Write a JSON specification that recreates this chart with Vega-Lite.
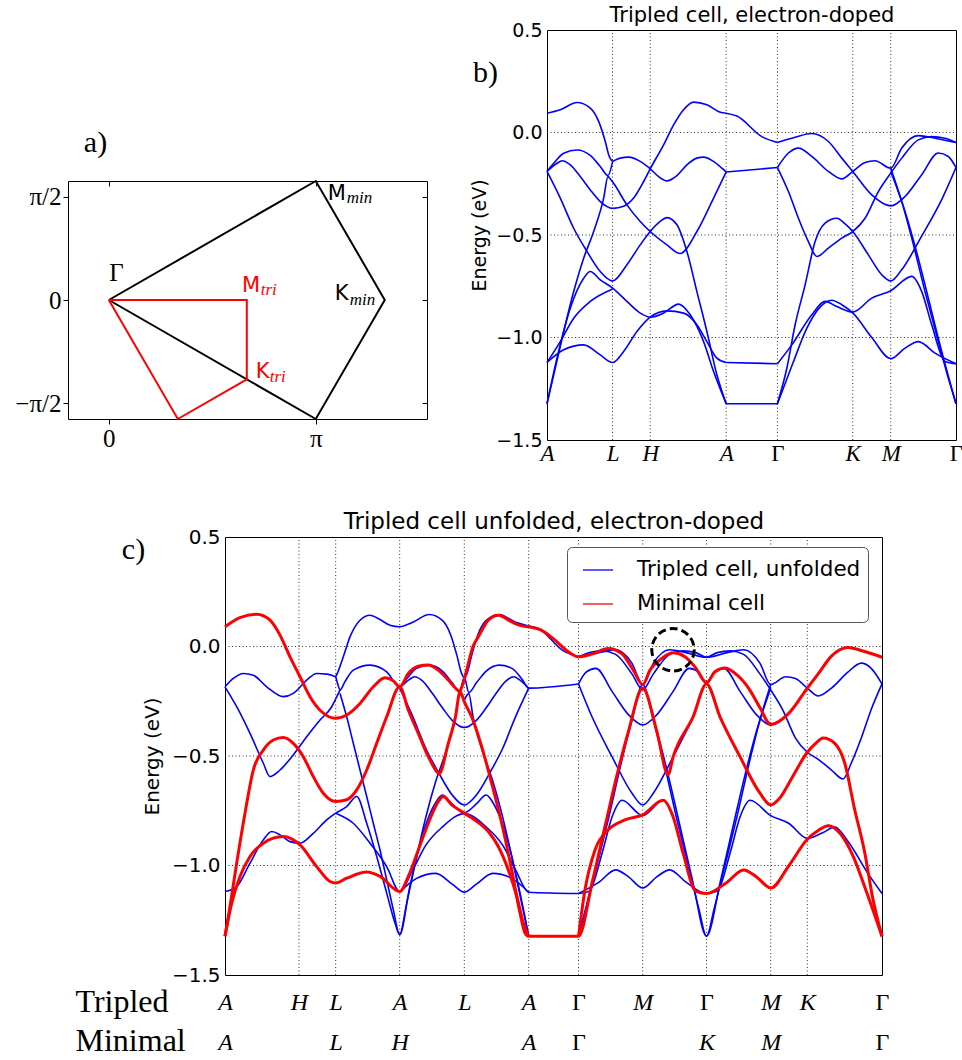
{
"$schema": "https://vega.github.io/schema/vega-lite/v6.json",
"width": 962, "height": 1060, "autosize": "none", "padding": 0, "background": "white",
"config": {"view": {"stroke": null}, "axis": {"domainColor": "black", "tickColor": "black", "labelColor": "black", "titleColor": "black", "grid": false, "labelFont": "DejaVu Sans", "titleFont": "DejaVu Sans", "titleFontWeight": "normal", "labelFlush": false, "labelOverlap": false, "labelBound": false}},
"datasets": {
"bz": [
{"s": "min", "o": 0, "kx": 0, "ky": 0}, {"s": "min", "o": 1, "kx": 3.1416, "ky": 1.8138}, {"s": "min", "o": 2, "kx": 4.1888, "ky": 0}, {"s": "min", "o": 3, "kx": 3.1416, "ky": -1.8138}, {"s": "min", "o": 4, "kx": 0, "ky": 0},
{"s": "tri", "o": 0, "kx": 0, "ky": 0}, {"s": "tri", "o": 1, "kx": 2.0944, "ky": 0}, {"s": "tri", "o": 2, "kx": 2.0944, "ky": -1.2092}, {"s": "tri", "o": 3, "kx": 1.0472, "ky": -1.8138}, {"s": "tri", "o": 4, "kx": 0, "ky": 0}],
"bzlab": [
{"main": "M", "sub": "min", "g": "min", "x": 3.324, "y": 1.524, "sx": 3.613, "sy": 1.48},
{"main": "K", "sub": "min", "g": "min", "x": 3.43, "y": 0.0, "sx": 3.658, "sy": -0.076},
{"main": "M", "sub": "tri", "g": "tri", "x": 2.02, "y": 0.122, "sx": 2.305, "sy": 0.076},
{"main": "K", "sub": "tri", "g": "tri", "x": 2.229, "y": -1.189, "sx": 2.442, "sy": -1.25}],
"gam": [{"t": "Γ", "x": 0.117, "y": 0.29}],
"gbv": [{"k": 65.6}, {"k": 103.3}, {"k": 179.3}, {"k": 230.6}, {"k": 306}, {"k": 344}],
"gh": [{"e": -1}, {"e": -0.5}, {"e": 0}],
"gcv": [{"k": 74}, {"k": 110.7}, {"k": 174.7}, {"k": 239.3}, {"k": 303.7}, {"k": 353.5}, {"k": 417.7}, {"k": 481.5}, {"k": 545.7}, {"k": 582.3}],
"b": [
{"id": "b1", "k": 0, "e": 0.094}, {"id": "b1", "k": 13.3, "e": 0.111}, {"id": "b1", "k": 30, "e": 0.146}, {"id": "b1", "k": 43.3, "e": 0.119}, {"id": "b1", "k": 51.7, "e": 0.054}, {"id": "b1", "k": 58.3, "e": -0.044}, {"id": "b1", "k": 62.3, "e": -0.117}, {"id": "b1", "k": 65.7, "e": -0.141},
{"id": "b2", "k": 65.7, "e": -0.141}, {"id": "b2", "k": 73.3, "e": -0.125}, {"id": "b2", "k": 81.7, "e": -0.12}, {"id": "b2", "k": 93.3, "e": -0.141}, {"id": "b2", "k": 103.3, "e": -0.177}, {"id": "b2", "k": 111.7, "e": -0.215}, {"id": "b2", "k": 120, "e": -0.236}, {"id": "b2", "k": 130, "e": -0.21}, {"id": "b2", "k": 140, "e": -0.158}, {"id": "b2", "k": 150, "e": -0.125}, {"id": "b2", "k": 156.7, "e": -0.12}, {"id": "b2", "k": 166.7, "e": -0.141}, {"id": "b2", "k": 175, "e": -0.174}, {"id": "b2", "k": 179.3, "e": -0.193},
{"id": "b3", "k": 0, "e": -0.19}, {"id": "b3", "k": 10, "e": -0.15}, {"id": "b3", "k": 15, "e": -0.138}, {"id": "b3", "k": 23.3, "e": -0.158}, {"id": "b3", "k": 33.3, "e": -0.215}, {"id": "b3", "k": 43.3, "e": -0.28}, {"id": "b3", "k": 53.3, "e": -0.337}, {"id": "b3", "k": 65.7, "e": -0.37}, {"id": "b3", "k": 76.7, "e": -0.36}, {"id": "b3", "k": 86.7, "e": -0.32}, {"id": "b3", "k": 96.7, "e": -0.239}, {"id": "b3", "k": 103.3, "e": -0.177}, {"id": "b3", "k": 116.7, "e": -0.06}, {"id": "b3", "k": 126.7, "e": 0.037}, {"id": "b3", "k": 136.7, "e": 0.111}, {"id": "b3", "k": 146.7, "e": 0.148}, {"id": "b3", "k": 160, "e": 0.135}, {"id": "b3", "k": 173.3, "e": 0.099}, {"id": "b3", "k": 179.3, "e": 0.094},
{"id": "b4", "k": 0, "e": -0.19}, {"id": "b4", "k": 6.7, "e": -0.15}, {"id": "b4", "k": 16.7, "e": -0.101}, {"id": "b4", "k": 30, "e": -0.085}, {"id": "b4", "k": 43.3, "e": -0.112}, {"id": "b4", "k": 53.3, "e": -0.166}, {"id": "b4", "k": 61, "e": -0.21}, {"id": "b4", "k": 65.7, "e": -0.141},
{"id": "b5", "k": 0, "e": -1.323}, {"id": "b5", "k": 6.7, "e": -1.182}, {"id": "b5", "k": 16.7, "e": -0.971}, {"id": "b5", "k": 26.7, "e": -0.776}, {"id": "b5", "k": 36.7, "e": -0.613}, {"id": "b5", "k": 46.7, "e": -0.483}, {"id": "b5", "k": 56.7, "e": -0.32}, {"id": "b5", "k": 61, "e": -0.215}, {"id": "b5", "k": 64, "e": -0.23}, {"id": "b5", "k": 67, "e": -0.25}, {"id": "b5", "k": 80, "e": -0.353}, {"id": "b5", "k": 93.3, "e": -0.434}, {"id": "b5", "k": 103.3, "e": -0.483}, {"id": "b5", "k": 120, "e": -0.548}, {"id": "b5", "k": 133.3, "e": -0.59}, {"id": "b5", "k": 150, "e": -0.483}, {"id": "b5", "k": 166.7, "e": -0.32}, {"id": "b5", "k": 179.3, "e": -0.193},
{"id": "b6", "k": 0, "e": -0.19}, {"id": "b6", "k": 13.3, "e": -0.32}, {"id": "b6", "k": 26.7, "e": -0.467}, {"id": "b6", "k": 40, "e": -0.58}, {"id": "b6", "k": 53.3, "e": -0.678}, {"id": "b6", "k": 65.7, "e": -0.724}, {"id": "b6", "k": 80, "e": -0.645}, {"id": "b6", "k": 93.3, "e": -0.548}, {"id": "b6", "k": 103.3, "e": -0.483}, {"id": "b6", "k": 113.3, "e": -0.434}, {"id": "b6", "k": 120, "e": -0.415}, {"id": "b6", "k": 130, "e": -0.45}, {"id": "b6", "k": 140, "e": -0.58}, {"id": "b6", "k": 150, "e": -0.776}, {"id": "b6", "k": 160, "e": -0.971}, {"id": "b6", "k": 170, "e": -1.182}, {"id": "b6", "k": 179.3, "e": -1.323},
{"id": "b8", "k": 0, "e": -1.323}, {"id": "b8", "k": 10, "e": -1.101}, {"id": "b8", "k": 23.3, "e": -0.857}, {"id": "b8", "k": 36.7, "e": -0.711}, {"id": "b8", "k": 43.3, "e": -0.678}, {"id": "b8", "k": 53.3, "e": -0.719}, {"id": "b8", "k": 65.7, "e": -0.759}, {"id": "b8", "k": 80, "e": -0.824}, {"id": "b8", "k": 93.3, "e": -0.881}, {"id": "b8", "k": 103.3, "e": -0.901}, {"id": "b8", "k": 116.7, "e": -0.881}, {"id": "b8", "k": 131.7, "e": -0.837}, {"id": "b8", "k": 143.3, "e": -0.889}, {"id": "b8", "k": 156.7, "e": -1.02}, {"id": "b8", "k": 166.7, "e": -1.166}, {"id": "b8", "k": 179.3, "e": -1.323},
{"id": "b9", "k": 0, "e": -1.122}, {"id": "b9", "k": 16.7, "e": -1.06}, {"id": "b9", "k": 36.7, "e": -1.036}, {"id": "b9", "k": 53.3, "e": -1.085}, {"id": "b9", "k": 65.7, "e": -1.122}, {"id": "b9", "k": 76.7, "e": -1.068}, {"id": "b9", "k": 90, "e": -0.971}, {"id": "b9", "k": 103.3, "e": -0.901}, {"id": "b9", "k": 120, "e": -0.87}, {"id": "b9", "k": 136.7, "e": -0.881}, {"id": "b9", "k": 150, "e": -0.938}, {"id": "b9", "k": 160, "e": -1.02}, {"id": "b9", "k": 170, "e": -1.101}, {"id": "b9", "k": 179.3, "e": -1.122},
{"id": "b10", "k": 0, "e": -1.122}, {"id": "b10", "k": 13.3, "e": -1.02}, {"id": "b10", "k": 26.7, "e": -0.906}, {"id": "b10", "k": 43.3, "e": -0.824}, {"id": "b10", "k": 65.7, "e": -0.763},
{"id": "g1", "k": 179.3, "e": 0.094}, {"id": "g1", "k": 190, "e": 0.08}, {"id": "g1", "k": 215, "e": -0.02}, {"id": "g1", "k": 230.6, "e": -0.049},
{"id": "g2", "k": 179.3, "e": -0.193}, {"id": "g2", "k": 230.6, "e": -0.171},
{"id": "g3", "k": 179.3, "e": -1.122}, {"id": "g3", "k": 230.6, "e": -1.128},
{"id": "g4", "k": 179.3, "e": -1.323}, {"id": "g4", "k": 230.6, "e": -1.323},
{"id": "ca", "k": 230.6, "e": -0.171}, {"id": "ca", "k": 241.6, "e": -0.1}, {"id": "ca", "k": 251.6, "e": -0.076}, {"id": "ca", "k": 265, "e": -0.117}, {"id": "ca", "k": 281.6, "e": -0.19}, {"id": "ca", "k": 295, "e": -0.226}, {"id": "ca", "k": 306, "e": -0.19}, {"id": "ca", "k": 318.3, "e": -0.146}, {"id": "ca", "k": 328.3, "e": -0.138}, {"id": "ca", "k": 344, "e": -0.174}, {"id": "ca", "k": 355, "e": -0.076}, {"id": "ca", "k": 371.6, "e": -0.015}, {"id": "ca", "k": 388.3, "e": -0.028}, {"id": "ca", "k": 409.3, "e": -0.049},
{"id": "cb", "k": 230.6, "e": -0.049}, {"id": "cb", "k": 248.3, "e": -0.023}, {"id": "cb", "k": 265, "e": -0.005}, {"id": "cb", "k": 281.6, "e": -0.044}, {"id": "cb", "k": 295, "e": -0.125}, {"id": "cb", "k": 306, "e": -0.19}, {"id": "cb", "k": 325, "e": -0.304}, {"id": "cb", "k": 344, "e": -0.358}, {"id": "cb", "k": 358.3, "e": -0.312}, {"id": "cb", "k": 375, "e": -0.206}, {"id": "cb", "k": 391.6, "e": -0.1}, {"id": "cb", "k": 401.6, "e": -0.117}, {"id": "cb", "k": 409.3, "e": -0.171},
{"id": "cc", "k": 230.6, "e": -0.171}, {"id": "cc", "k": 241.6, "e": -0.288}, {"id": "cc", "k": 251.6, "e": -0.418}, {"id": "cc", "k": 261.6, "e": -0.532}, {"id": "cc", "k": 270, "e": -0.605}, {"id": "cc", "k": 281.6, "e": -0.564}, {"id": "cc", "k": 295, "e": -0.515}, {"id": "cc", "k": 306, "e": -0.483}, {"id": "cc", "k": 318.3, "e": -0.418}, {"id": "cc", "k": 331.6, "e": -0.288}, {"id": "cc", "k": 344, "e": -0.198}, {"id": "cc", "k": 355, "e": -0.125}, {"id": "cc", "k": 371.6, "e": -0.036}, {"id": "cc", "k": 385, "e": -0.02}, {"id": "cc", "k": 398.3, "e": -0.028}, {"id": "cc", "k": 409.3, "e": -0.049},
{"id": "cd", "k": 230.6, "e": -1.323}, {"id": "cd", "k": 240, "e": -1.15}, {"id": "cd", "k": 248.3, "e": -0.938}, {"id": "cd", "k": 258.3, "e": -0.743}, {"id": "cd", "k": 268.3, "e": -0.532}, {"id": "cd", "k": 278.3, "e": -0.442}, {"id": "cd", "k": 290, "e": -0.418}, {"id": "cd", "k": 298.3, "e": -0.446}, {"id": "cd", "k": 306, "e": -0.483}, {"id": "cd", "k": 321.6, "e": -0.597}, {"id": "cd", "k": 335, "e": -0.694}, {"id": "cd", "k": 344, "e": -0.724}, {"id": "cd", "k": 354.9, "e": -0.67}, {"id": "cd", "k": 375.2, "e": -0.503}, {"id": "cd", "k": 395.6, "e": -0.321}, {"id": "cd", "k": 409.3, "e": -0.171},
{"id": "ce", "k": 230.6, "e": -1.128}, {"id": "ce", "k": 245, "e": -1.036}, {"id": "ce", "k": 265, "e": -0.889}, {"id": "ce", "k": 278.3, "e": -0.824}, {"id": "ce", "k": 290, "e": -0.849}, {"id": "ce", "k": 306, "e": -0.876}, {"id": "ce", "k": 325, "e": -0.808}, {"id": "ce", "k": 344, "e": -0.772}, {"id": "ce", "k": 365, "e": -0.702}, {"id": "ce", "k": 375, "e": -0.776}, {"id": "ce", "k": 385, "e": -0.938}, {"id": "ce", "k": 398.3, "e": -1.117}, {"id": "ce", "k": 409.3, "e": -1.128},
{"id": "cf", "k": 230.6, "e": -1.323}, {"id": "cf", "k": 246, "e": -1.126}, {"id": "cf", "k": 259.6, "e": -0.959}, {"id": "cf", "k": 273, "e": -0.853}, {"id": "cf", "k": 284.8, "e": -0.818}, {"id": "cf", "k": 295, "e": -0.84}, {"id": "cf", "k": 306, "e": -0.88}, {"id": "cf", "k": 325, "e": -1.0}, {"id": "cf", "k": 344, "e": -1.103}, {"id": "cf", "k": 358.3, "e": -1.052}, {"id": "cf", "k": 371.6, "e": -1.02}, {"id": "cf", "k": 388.3, "e": -1.076}, {"id": "cf", "k": 409.3, "e": -1.128},
{"id": "ch", "k": 344, "e": -0.174}, {"id": "ch", "k": 355, "e": -0.337}, {"id": "ch", "k": 365, "e": -0.515}, {"id": "ch", "k": 378.3, "e": -0.776}, {"id": "ch", "k": 391.6, "e": -1.02}, {"id": "ch", "k": 401.6, "e": -1.198}, {"id": "ch", "k": 409.3, "e": -1.323},
{"id": "ci", "k": 344, "e": -0.19}, {"id": "ci", "k": 358.3, "e": -0.385}, {"id": "ci", "k": 370, "e": -0.585}, {"id": "ci", "k": 381.6, "e": -0.808}, {"id": "ci", "k": 395, "e": -1.068}, {"id": "ci", "k": 409.3, "e": -1.323}],
"cblue": [
{"id": "h1", "k": 110.7, "e": -0.138}, {"id": "h1", "k": 112.3, "e": -0.123}, {"id": "h1", "k": 118.3, "e": -0.047}, {"id": "h1", "k": 125, "e": 0.044}, {"id": "h1", "k": 135, "e": 0.12}, {"id": "h1", "k": 145, "e": 0.143}, {"id": "h1", "k": 155, "e": 0.123}, {"id": "h1", "k": 165, "e": 0.097}, {"id": "h1", "k": 174.7, "e": 0.09}, {"id": "h1", "k": 187.8, "e": 0.111}, {"id": "h1", "k": 204.3, "e": 0.146}, {"id": "h1", "k": 217.4, "e": 0.119}, {"id": "h1", "k": 225.6, "e": 0.054}, {"id": "h1", "k": 232.1, "e": -0.044}, {"id": "h1", "k": 236.1, "e": -0.117}, {"id": "h1", "k": 239.3, "e": -0.141}, {"id": "h1", "k": 242.5, "e": -0.117}, {"id": "h1", "k": 246.5, "e": -0.044}, {"id": "h1", "k": 252.9, "e": 0.054}, {"id": "h1", "k": 261.2, "e": 0.119}, {"id": "h1", "k": 274.2, "e": 0.146}, {"id": "h1", "k": 290.6, "e": 0.111}, {"id": "h1", "k": 303.7, "e": 0.094}, {"id": "h1", "k": 314.1, "e": 0.08}, {"id": "h1", "k": 338.4, "e": -0.02}, {"id": "h1", "k": 353.5, "e": -0.047},
{"id": "w1", "k": 0, "e": -0.184}, {"id": "w1", "k": 8.3, "e": -0.146}, {"id": "w1", "k": 18.3, "e": -0.123}, {"id": "w1", "k": 28.3, "e": -0.131}, {"id": "w1", "k": 41.7, "e": -0.184}, {"id": "w1", "k": 58.3, "e": -0.229}, {"id": "w1", "k": 68.3, "e": -0.214}, {"id": "w1", "k": 81.7, "e": -0.153}, {"id": "w1", "k": 91.7, "e": -0.123}, {"id": "w1", "k": 101.7, "e": -0.126}, {"id": "w1", "k": 110.7, "e": -0.138},
{"id": "a1", "k": 110.7, "e": -0.138}, {"id": "a1", "k": 113, "e": -0.175}, {"id": "a1", "k": 115, "e": -0.199}, {"id": "a1", "k": 120, "e": -0.16}, {"id": "a1", "k": 128.3, "e": -0.108}, {"id": "a1", "k": 145, "e": -0.085}, {"id": "a1", "k": 161.7, "e": -0.116}, {"id": "a1", "k": 174.7, "e": -0.184}, {"id": "a1", "k": 181.3, "e": -0.15}, {"id": "a1", "k": 191.1, "e": -0.101}, {"id": "a1", "k": 204.3, "e": -0.085}, {"id": "a1", "k": 217.4, "e": -0.112}, {"id": "a1", "k": 227.2, "e": -0.166}, {"id": "a1", "k": 234.8, "e": -0.21}, {"id": "a1", "k": 239.3, "e": -0.141}, {"id": "a1", "k": 243.8, "e": -0.21}, {"id": "a1", "k": 251.4, "e": -0.166}, {"id": "a1", "k": 261.2, "e": -0.112}, {"id": "a1", "k": 274.2, "e": -0.085}, {"id": "a1", "k": 287.3, "e": -0.101}, {"id": "a1", "k": 297.1, "e": -0.15}, {"id": "a1", "k": 303.7, "e": -0.19}, {"id": "a1", "k": 353.5, "e": -0.171},
{"id": "d1", "k": 0, "e": -0.184}, {"id": "d1", "k": 11.7, "e": -0.275}, {"id": "d1", "k": 25, "e": -0.397}, {"id": "d1", "k": 38.3, "e": -0.533}, {"id": "d1", "k": 45, "e": -0.594}, {"id": "d1", "k": 55, "e": -0.564}, {"id": "d1", "k": 68.3, "e": -0.495}, {"id": "d1", "k": 81.7, "e": -0.412}, {"id": "d1", "k": 95, "e": -0.336}, {"id": "d1", "k": 106.7, "e": -0.275}, {"id": "d1", "k": 111.7, "e": -0.23}, {"id": "d1", "k": 115, "e": -0.199},
{"id": "l1", "k": 0, "e": -1.119}, {"id": "l1", "k": 11.7, "e": -1.096}, {"id": "l1", "k": 25, "e": -0.989}, {"id": "l1", "k": 38.3, "e": -0.883}, {"id": "l1", "k": 46.7, "e": -0.845}, {"id": "l1", "k": 55, "e": -0.86}, {"id": "l1", "k": 65, "e": -0.891}, {"id": "l1", "k": 75, "e": -0.898}, {"id": "l1", "k": 88.3, "e": -0.853}, {"id": "l1", "k": 101.7, "e": -0.792}, {"id": "l1", "k": 110.7, "e": -0.761}, {"id": "l1", "k": 121.7, "e": -0.731}, {"id": "l1", "k": 131.7, "e": -0.685}, {"id": "l1", "k": 141.7, "e": -0.807}, {"id": "l1", "k": 151.7, "e": -0.959}, {"id": "l1", "k": 161.7, "e": -1.126}, {"id": "l1", "k": 170, "e": -1.263}, {"id": "l1", "k": 174.7, "e": -1.316}, {"id": "l1", "k": 181.3, "e": -1.182}, {"id": "l1", "k": 191.1, "e": -0.971}, {"id": "l1", "k": 201, "e": -0.776}, {"id": "l1", "k": 210.9, "e": -0.613}, {"id": "l1", "k": 220.7, "e": -0.483}, {"id": "l1", "k": 230.5, "e": -0.32}, {"id": "l1", "k": 234.8, "e": -0.215}, {"id": "l1", "k": 237.7, "e": -0.23}, {"id": "l1", "k": 239.3, "e": -0.245}, {"id": "l1", "k": 240.9, "e": -0.23}, {"id": "l1", "k": 243.8, "e": -0.215}, {"id": "l1", "k": 248, "e": -0.32}, {"id": "l1", "k": 257.8, "e": -0.483}, {"id": "l1", "k": 267.7, "e": -0.613}, {"id": "l1", "k": 277.5, "e": -0.776}, {"id": "l1", "k": 287.3, "e": -0.971}, {"id": "l1", "k": 297.1, "e": -1.182}, {"id": "l1", "k": 303.7, "e": -1.323},
{"id": "m1", "k": 110.7, "e": -0.761}, {"id": "m1", "k": 128.3, "e": -0.807}, {"id": "m1", "k": 145, "e": -0.898}, {"id": "m1", "k": 161.7, "e": -1.005}, {"id": "m1", "k": 174.7, "e": -1.119}, {"id": "m1", "k": 187.8, "e": -1.02}, {"id": "m1", "k": 201, "e": -0.906}, {"id": "m1", "k": 217.4, "e": -0.824}, {"id": "m1", "k": 239.3, "e": -0.763}, {"id": "m1", "k": 261.2, "e": -0.824}, {"id": "m1", "k": 277.5, "e": -0.906}, {"id": "m1", "k": 290.6, "e": -1.02}, {"id": "m1", "k": 303.7, "e": -1.122}, {"id": "m1", "k": 353.5, "e": -1.128},
{"id": "s1", "k": 115, "e": -0.214}, {"id": "s1", "k": 121.7, "e": -0.321}, {"id": "s1", "k": 128.3, "e": -0.442}, {"id": "s1", "k": 135, "e": -0.564}, {"id": "s1", "k": 141.7, "e": -0.685}, {"id": "s1", "k": 148.3, "e": -0.807}, {"id": "s1", "k": 155, "e": -0.929}, {"id": "s1", "k": 161.7, "e": -1.065}, {"id": "s1", "k": 168.3, "e": -1.202}, {"id": "s1", "k": 174.7, "e": -1.316}, {"id": "s1", "k": 184.6, "e": -1.101}, {"id": "s1", "k": 197.7, "e": -0.857}, {"id": "s1", "k": 210.9, "e": -0.711}, {"id": "s1", "k": 217.4, "e": -0.678}, {"id": "s1", "k": 227.2, "e": -0.719}, {"id": "s1", "k": 239.3, "e": -0.759}, {"id": "s1", "k": 251.4, "e": -0.719}, {"id": "s1", "k": 261.2, "e": -0.678}, {"id": "s1", "k": 267.7, "e": -0.711}, {"id": "s1", "k": 280.8, "e": -0.857}, {"id": "s1", "k": 293.9, "e": -1.101}, {"id": "s1", "k": 303.7, "e": -1.323},
{"id": "u3", "k": 174.7, "e": -0.19}, {"id": "u3", "k": 184.6, "e": -0.15}, {"id": "u3", "k": 189.5, "e": -0.138}, {"id": "u3", "k": 197.7, "e": -0.158}, {"id": "u3", "k": 207.5, "e": -0.215}, {"id": "u3", "k": 217.4, "e": -0.28}, {"id": "u3", "k": 227.2, "e": -0.337}, {"id": "u3", "k": 239.3, "e": -0.37}, {"id": "u3", "k": 251.4, "e": -0.337}, {"id": "u3", "k": 261.2, "e": -0.28}, {"id": "u3", "k": 271, "e": -0.215}, {"id": "u3", "k": 280.8, "e": -0.158}, {"id": "u3", "k": 289, "e": -0.138}, {"id": "u3", "k": 293.9, "e": -0.15}, {"id": "u3", "k": 303.7, "e": -0.19},
{"id": "u6", "k": 174.7, "e": -0.19}, {"id": "u6", "k": 187.8, "e": -0.32}, {"id": "u6", "k": 201, "e": -0.467}, {"id": "u6", "k": 214.1, "e": -0.58}, {"id": "u6", "k": 227.2, "e": -0.678}, {"id": "u6", "k": 239.3, "e": -0.724}, {"id": "u6", "k": 251.4, "e": -0.678}, {"id": "u6", "k": 264.4, "e": -0.58}, {"id": "u6", "k": 277.5, "e": -0.467}, {"id": "u6", "k": 290.6, "e": -0.32}, {"id": "u6", "k": 303.7, "e": -0.19},
{"id": "u9", "k": 174.7, "e": -1.122}, {"id": "u9", "k": 191.1, "e": -1.06}, {"id": "u9", "k": 210.9, "e": -1.036}, {"id": "u9", "k": 227.2, "e": -1.085}, {"id": "u9", "k": 239.3, "e": -1.122}, {"id": "u9", "k": 251.4, "e": -1.085}, {"id": "u9", "k": 267.7, "e": -1.036}, {"id": "u9", "k": 287.3, "e": -1.06}, {"id": "u9", "k": 303.7, "e": -1.122},
{"id": "ca", "k": 353.5, "e": -0.049}, {"id": "ca", "k": 374.1, "e": -0.028}, {"id": "ca", "k": 390.6, "e": -0.015}, {"id": "ca", "k": 406.9, "e": -0.076}, {"id": "ca", "k": 417.7, "e": -0.174}, {"id": "ca", "k": 428.4, "e": -0.076}, {"id": "ca", "k": 444.7, "e": -0.015}, {"id": "ca", "k": 461, "e": -0.028}, {"id": "ca", "k": 481.5, "e": -0.049}, {"id": "ca", "k": 502.1, "e": -0.028}, {"id": "ca", "k": 518.6, "e": -0.015}, {"id": "ca", "k": 534.9, "e": -0.076}, {"id": "ca", "k": 545.7, "e": -0.174}, {"id": "ca", "k": 560.8, "e": -0.138}, {"id": "ca", "k": 570.5, "e": -0.146}, {"id": "ca", "k": 582.3, "e": -0.19}, {"id": "ca", "k": 593.2, "e": -0.226}, {"id": "ca", "k": 606.5, "e": -0.19}, {"id": "ca", "k": 622.9, "e": -0.117}, {"id": "ca", "k": 636.3, "e": -0.076}, {"id": "ca", "k": 646.2, "e": -0.1}, {"id": "ca", "k": 657, "e": -0.171},
{"id": "cb", "k": 353.5, "e": -0.171}, {"id": "cb", "k": 361.1, "e": -0.117}, {"id": "cb", "k": 370.9, "e": -0.1}, {"id": "cb", "k": 387.2, "e": -0.206}, {"id": "cb", "k": 403.6, "e": -0.312}, {"id": "cb", "k": 417.7, "e": -0.358}, {"id": "cb", "k": 431.7, "e": -0.312}, {"id": "cb", "k": 448, "e": -0.206}, {"id": "cb", "k": 464.2, "e": -0.1}, {"id": "cb", "k": 473.9, "e": -0.117}, {"id": "cb", "k": 481.5, "e": -0.171}, {"id": "cb", "k": 489.1, "e": -0.117}, {"id": "cb", "k": 498.9, "e": -0.1}, {"id": "cb", "k": 515.2, "e": -0.206}, {"id": "cb", "k": 531.6, "e": -0.312}, {"id": "cb", "k": 545.7, "e": -0.358}, {"id": "cb", "k": 564, "e": -0.304}, {"id": "cb", "k": 582.3, "e": -0.19}, {"id": "cb", "k": 593.2, "e": -0.125}, {"id": "cb", "k": 606.5, "e": -0.044}, {"id": "cb", "k": 622.9, "e": -0.005}, {"id": "cb", "k": 639.6, "e": -0.023}, {"id": "cb", "k": 657, "e": -0.049},
{"id": "cc", "k": 353.5, "e": -0.049}, {"id": "cc", "k": 364.3, "e": -0.028}, {"id": "cc", "k": 377.4, "e": -0.02}, {"id": "cc", "k": 390.6, "e": -0.036}, {"id": "cc", "k": 406.9, "e": -0.125}, {"id": "cc", "k": 417.7, "e": -0.198}, {"id": "cc", "k": 428.4, "e": -0.125}, {"id": "cc", "k": 444.7, "e": -0.036}, {"id": "cc", "k": 457.8, "e": -0.02}, {"id": "cc", "k": 470.7, "e": -0.028}, {"id": "cc", "k": 481.5, "e": -0.049}, {"id": "cc", "k": 492.3, "e": -0.028}, {"id": "cc", "k": 505.4, "e": -0.02}, {"id": "cc", "k": 518.6, "e": -0.036}, {"id": "cc", "k": 534.9, "e": -0.125}, {"id": "cc", "k": 545.7, "e": -0.198}, {"id": "cc", "k": 557.6, "e": -0.288}, {"id": "cc", "k": 570.5, "e": -0.418}, {"id": "cc", "k": 582.3, "e": -0.483}, {"id": "cc", "k": 593.2, "e": -0.515}, {"id": "cc", "k": 606.5, "e": -0.564}, {"id": "cc", "k": 618, "e": -0.605}, {"id": "cc", "k": 626.3, "e": -0.532}, {"id": "cc", "k": 636.3, "e": -0.418}, {"id": "cc", "k": 646.2, "e": -0.288}, {"id": "cc", "k": 657, "e": -0.171},
{"id": "cd", "k": 353.5, "e": -0.171}, {"id": "cd", "k": 367, "e": -0.321}, {"id": "cd", "k": 387, "e": -0.503}, {"id": "cd", "k": 407, "e": -0.67}, {"id": "cd", "k": 417.7, "e": -0.724}, {"id": "cd", "k": 428.3, "e": -0.67}, {"id": "cd", "k": 448.2, "e": -0.503}, {"id": "cd", "k": 468.1, "e": -0.321}, {"id": "cd", "k": 481.5, "e": -0.171}, {"id": "cd", "k": 495, "e": -0.321}, {"id": "cd", "k": 515, "e": -0.503}, {"id": "cd", "k": 535, "e": -0.67}, {"id": "cd", "k": 545.7, "e": -0.724}, {"id": "cd", "k": 554.4, "e": -0.694}, {"id": "cd", "k": 567.3, "e": -0.597}, {"id": "cd", "k": 582.3, "e": -0.483}, {"id": "cd", "k": 589.9, "e": -0.446}, {"id": "cd", "k": 598.2, "e": -0.418}, {"id": "cd", "k": 609.8, "e": -0.442}, {"id": "cd", "k": 619.7, "e": -0.532}, {"id": "cd", "k": 629.6, "e": -0.743}, {"id": "cd", "k": 639.6, "e": -0.938}, {"id": "cd", "k": 647.8, "e": -1.15}, {"id": "cd", "k": 657, "e": -1.323},
{"id": "ce", "k": 353.5, "e": -1.128}, {"id": "ce", "k": 364.3, "e": -1.117}, {"id": "ce", "k": 377.4, "e": -0.938}, {"id": "ce", "k": 387.2, "e": -0.776}, {"id": "ce", "k": 397.1, "e": -0.702}, {"id": "ce", "k": 417.7, "e": -0.772}, {"id": "ce", "k": 438.2, "e": -0.702}, {"id": "ce", "k": 448, "e": -0.776}, {"id": "ce", "k": 457.8, "e": -0.938}, {"id": "ce", "k": 470.7, "e": -1.117}, {"id": "ce", "k": 481.5, "e": -1.128}, {"id": "ce", "k": 492.3, "e": -1.117}, {"id": "ce", "k": 505.4, "e": -0.938}, {"id": "ce", "k": 515.2, "e": -0.776}, {"id": "ce", "k": 525.1, "e": -0.702}, {"id": "ce", "k": 545.7, "e": -0.772}, {"id": "ce", "k": 564, "e": -0.808}, {"id": "ce", "k": 582.3, "e": -0.876}, {"id": "ce", "k": 598.2, "e": -0.849}, {"id": "ce", "k": 609.8, "e": -0.824}, {"id": "ce", "k": 622.9, "e": -0.889}, {"id": "ce", "k": 642.9, "e": -1.036}, {"id": "ce", "k": 657, "e": -1.128},
{"id": "cf", "k": 353.5, "e": -1.128}, {"id": "cf", "k": 374.1, "e": -1.076}, {"id": "cf", "k": 390.6, "e": -1.02}, {"id": "cf", "k": 403.6, "e": -1.052}, {"id": "cf", "k": 417.7, "e": -1.103}, {"id": "cf", "k": 431.7, "e": -1.052}, {"id": "cf", "k": 444.7, "e": -1.02}, {"id": "cf", "k": 461, "e": -1.076}, {"id": "cf", "k": 481.5, "e": -1.128}, {"id": "cf", "k": 502.1, "e": -1.076}, {"id": "cf", "k": 518.6, "e": -1.02}, {"id": "cf", "k": 531.6, "e": -1.052}, {"id": "cf", "k": 545.7, "e": -1.103}, {"id": "cf", "k": 564, "e": -1.0}, {"id": "cf", "k": 582.3, "e": -0.88}, {"id": "cf", "k": 593.2, "e": -0.84}, {"id": "cf", "k": 603.3, "e": -0.818}, {"id": "cf", "k": 615, "e": -0.853}, {"id": "cf", "k": 628.3, "e": -0.959}, {"id": "cf", "k": 641.9, "e": -1.126}, {"id": "cf", "k": 657, "e": -1.323},
{"id": "ch", "k": 353.5, "e": -1.323}, {"id": "ch", "k": 361.1, "e": -1.198}, {"id": "ch", "k": 370.9, "e": -1.02}, {"id": "ch", "k": 384, "e": -0.776}, {"id": "ch", "k": 397.1, "e": -0.515}, {"id": "ch", "k": 406.9, "e": -0.337}, {"id": "ch", "k": 417.7, "e": -0.174}, {"id": "ch", "k": 428.4, "e": -0.337}, {"id": "ch", "k": 438.2, "e": -0.515}, {"id": "ch", "k": 451.2, "e": -0.776}, {"id": "ch", "k": 464.2, "e": -1.02}, {"id": "ch", "k": 473.9, "e": -1.198}, {"id": "ch", "k": 481.5, "e": -1.323}, {"id": "ch", "k": 489.1, "e": -1.198}, {"id": "ch", "k": 498.9, "e": -1.02}, {"id": "ch", "k": 512, "e": -0.776}, {"id": "ch", "k": 525.1, "e": -0.515}, {"id": "ch", "k": 534.9, "e": -0.337}, {"id": "ch", "k": 545.7, "e": -0.174},
{"id": "ci", "k": 353.5, "e": -1.323}, {"id": "ci", "k": 367.6, "e": -1.068}, {"id": "ci", "k": 380.7, "e": -0.808}, {"id": "ci", "k": 392.1, "e": -0.585}, {"id": "ci", "k": 403.6, "e": -0.385}, {"id": "ci", "k": 417.7, "e": -0.19}, {"id": "ci", "k": 431.7, "e": -0.385}, {"id": "ci", "k": 443.1, "e": -0.585}, {"id": "ci", "k": 454.4, "e": -0.808}, {"id": "ci", "k": 467.5, "e": -1.068}, {"id": "ci", "k": 481.5, "e": -1.323}, {"id": "ci", "k": 495.6, "e": -1.068}, {"id": "ci", "k": 508.7, "e": -0.808}, {"id": "ci", "k": 520.1, "e": -0.585}, {"id": "ci", "k": 531.6, "e": -0.385}, {"id": "ci", "k": 545.7, "e": -0.19}],
"cred": [
{"id": "r1", "k": 0, "e": 0.09}, {"id": "r1", "k": 15, "e": 0.132}, {"id": "r1", "k": 31.7, "e": 0.147}, {"id": "r1", "k": 45, "e": 0.12}, {"id": "r1", "k": 55, "e": 0.052}, {"id": "r1", "k": 65, "e": -0.047}, {"id": "r1", "k": 75, "e": -0.138}, {"id": "r1", "k": 85, "e": -0.229}, {"id": "r1", "k": 96.7, "e": -0.298}, {"id": "r1", "k": 110.7, "e": -0.328}, {"id": "r1", "k": 121.7, "e": -0.313}, {"id": "r1", "k": 135, "e": -0.26}, {"id": "r1", "k": 148.3, "e": -0.184}, {"id": "r1", "k": 160, "e": -0.143}, {"id": "r1", "k": 168.3, "e": -0.157}, {"id": "r1", "k": 174.7, "e": -0.184}, {"id": "r1", "k": 183.3, "e": -0.123}, {"id": "r1", "k": 193.3, "e": -0.09}, {"id": "r1", "k": 203.3, "e": -0.085}, {"id": "r1", "k": 213.3, "e": -0.108}, {"id": "r1", "k": 223.3, "e": -0.153}, {"id": "r1", "k": 231.7, "e": -0.196}, {"id": "r1", "k": 235, "e": -0.207},
{"id": "r2", "k": 0, "e": -1.323}, {"id": "r2", "k": 5, "e": -1.187}, {"id": "r2", "k": 11.7, "e": -0.989}, {"id": "r2", "k": 20, "e": -0.761}, {"id": "r2", "k": 28.3, "e": -0.564}, {"id": "r2", "k": 38.3, "e": -0.473}, {"id": "r2", "k": 48.3, "e": -0.427}, {"id": "r2", "k": 58.3, "e": -0.415}, {"id": "r2", "k": 68.3, "e": -0.442}, {"id": "r2", "k": 78.3, "e": -0.503}, {"id": "r2", "k": 88.3, "e": -0.594}, {"id": "r2", "k": 98.3, "e": -0.67}, {"id": "r2", "k": 110.7, "e": -0.708}, {"id": "r2", "k": 121.7, "e": -0.7}, {"id": "r2", "k": 131.7, "e": -0.655}, {"id": "r2", "k": 141.7, "e": -0.564}, {"id": "r2", "k": 151.7, "e": -0.442}, {"id": "r2", "k": 161.7, "e": -0.321}, {"id": "r2", "k": 174.7, "e": -0.184}, {"id": "r2", "k": 183.3, "e": -0.29}, {"id": "r2", "k": 193.3, "e": -0.397}, {"id": "r2", "k": 203.3, "e": -0.503}, {"id": "r2", "k": 211.7, "e": -0.571}, {"id": "r2", "k": 214, "e": -0.582}, {"id": "r2", "k": 223.3, "e": -0.442}, {"id": "r2", "k": 230.5, "e": -0.32}, {"id": "r2", "k": 235, "e": -0.207}, {"id": "r2", "k": 240, "e": -0.26}, {"id": "r2", "k": 246.7, "e": -0.321}, {"id": "r2", "k": 256.7, "e": -0.457}, {"id": "r2", "k": 266.7, "e": -0.625}, {"id": "r2", "k": 276.7, "e": -0.807}, {"id": "r2", "k": 286.7, "e": -1.02}, {"id": "r2", "k": 295, "e": -1.217}, {"id": "r2", "k": 300, "e": -1.308}, {"id": "r2", "k": 303.7, "e": -1.323}, {"id": "r2", "k": 353.5, "e": -1.323}, {"id": "r2", "k": 367.6, "e": -1.068}, {"id": "r2", "k": 380.7, "e": -0.808}, {"id": "r2", "k": 392.1, "e": -0.585}, {"id": "r2", "k": 403.6, "e": -0.385}, {"id": "r2", "k": 417.7, "e": -0.19}, {"id": "r2", "k": 431.7, "e": -0.385}, {"id": "r2", "k": 443.1, "e": -0.585}, {"id": "r2", "k": 448.2, "e": -0.503}, {"id": "r2", "k": 468.1, "e": -0.321}, {"id": "r2", "k": 481.5, "e": -0.171}, {"id": "r2", "k": 495, "e": -0.321}, {"id": "r2", "k": 515, "e": -0.503}, {"id": "r2", "k": 535, "e": -0.67}, {"id": "r2", "k": 545.7, "e": -0.724}, {"id": "r2", "k": 554.4, "e": -0.694}, {"id": "r2", "k": 567.3, "e": -0.597}, {"id": "r2", "k": 582.3, "e": -0.483}, {"id": "r2", "k": 589.9, "e": -0.446}, {"id": "r2", "k": 598.2, "e": -0.418}, {"id": "r2", "k": 609.8, "e": -0.442}, {"id": "r2", "k": 619.7, "e": -0.532}, {"id": "r2", "k": 629.6, "e": -0.743}, {"id": "r2", "k": 639.6, "e": -0.938}, {"id": "r2", "k": 647.8, "e": -1.15}, {"id": "r2", "k": 657, "e": -1.323},
{"id": "r3", "k": 0, "e": -1.323}, {"id": "r3", "k": 6.7, "e": -1.172}, {"id": "r3", "k": 15, "e": -1.05}, {"id": "r3", "k": 25, "e": -0.959}, {"id": "r3", "k": 38.3, "e": -0.898}, {"id": "r3", "k": 58.3, "e": -0.868}, {"id": "r3", "k": 75, "e": -0.906}, {"id": "r3", "k": 91.7, "e": -1.005}, {"id": "r3", "k": 105, "e": -1.073}, {"id": "r3", "k": 110.7, "e": -1.08}, {"id": "r3", "k": 121.7, "e": -1.058}, {"id": "r3", "k": 141.7, "e": -1.03}, {"id": "r3", "k": 155, "e": -1.05}, {"id": "r3", "k": 174.7, "e": -1.119}, {"id": "r3", "k": 183.3, "e": -1.05}, {"id": "r3", "k": 193.3, "e": -0.929}, {"id": "r3", "k": 203.3, "e": -0.807}, {"id": "r3", "k": 213.3, "e": -0.708}, {"id": "r3", "k": 218.3, "e": -0.685}, {"id": "r3", "k": 226.7, "e": -0.723}, {"id": "r3", "k": 236.7, "e": -0.754}, {"id": "r3", "k": 250, "e": -0.792}, {"id": "r3", "k": 263.3, "e": -0.845}, {"id": "r3", "k": 273.3, "e": -0.913}, {"id": "r3", "k": 283.3, "e": -1.02}, {"id": "r3", "k": 291.7, "e": -1.14}, {"id": "r3", "k": 298.3, "e": -1.262}, {"id": "r3", "k": 303.7, "e": -1.323},
{"id": "r5", "k": 353.5, "e": -1.323}, {"id": "r5", "k": 360, "e": -1.111}, {"id": "r5", "k": 370, "e": -0.929}, {"id": "r5", "k": 383.3, "e": -0.837}, {"id": "r5", "k": 400, "e": -0.792}, {"id": "r5", "k": 417.7, "e": -0.769}, {"id": "r5", "k": 438.2, "e": -0.702}, {"id": "r5", "k": 448, "e": -0.776}, {"id": "r5", "k": 457.8, "e": -0.938}, {"id": "r5", "k": 470.7, "e": -1.117}, {"id": "r5", "k": 481.5, "e": -1.128}, {"id": "r5", "k": 502.1, "e": -1.076}, {"id": "r5", "k": 518.6, "e": -1.02}, {"id": "r5", "k": 531.6, "e": -1.052}, {"id": "r5", "k": 545.7, "e": -1.103}, {"id": "r5", "k": 564, "e": -1.0}, {"id": "r5", "k": 582.3, "e": -0.88}, {"id": "r5", "k": 593.2, "e": -0.84}, {"id": "r5", "k": 603.3, "e": -0.818}, {"id": "r5", "k": 615, "e": -0.853}, {"id": "r5", "k": 628.3, "e": -0.959}, {"id": "r5", "k": 641.9, "e": -1.126}, {"id": "r5", "k": 657, "e": -1.323},
{"id": "r4", "k": 235, "e": -0.207}, {"id": "r4", "k": 239.3, "e": -0.15}, {"id": "r4", "k": 243.3, "e": -0.078}, {"id": "r4", "k": 248, "e": 0.0}, {"id": "r4", "k": 253.3, "e": 0.044}, {"id": "r4", "k": 263.3, "e": 0.12}, {"id": "r4", "k": 273.3, "e": 0.143}, {"id": "r4", "k": 286.7, "e": 0.112}, {"id": "r4", "k": 296.7, "e": 0.094}, {"id": "r4", "k": 303.7, "e": 0.09}, {"id": "r4", "k": 316.7, "e": 0.074}, {"id": "r4", "k": 330, "e": 0.029}, {"id": "r4", "k": 343.3, "e": -0.024}, {"id": "r4", "k": 353.5, "e": -0.047}, {"id": "r4", "k": 366.7, "e": -0.035}, {"id": "r4", "k": 383.3, "e": -0.009}, {"id": "r4", "k": 396.7, "e": -0.032}, {"id": "r4", "k": 408.3, "e": -0.108}, {"id": "r4", "k": 417.7, "e": -0.174}, {"id": "r4", "k": 425, "e": -0.108}, {"id": "r4", "k": 436.7, "e": -0.055}, {"id": "r4", "k": 448.3, "e": -0.029}, {"id": "r4", "k": 460, "e": -0.047}, {"id": "r4", "k": 470, "e": -0.093}, {"id": "r4", "k": 481.5, "e": -0.165}, {"id": "r4", "k": 490, "e": -0.115}, {"id": "r4", "k": 500, "e": -0.098}, {"id": "r4", "k": 512, "e": -0.13}, {"id": "r4", "k": 525, "e": -0.2}, {"id": "r4", "k": 535, "e": -0.28}, {"id": "r4", "k": 545.7, "e": -0.356}, {"id": "r4", "k": 564, "e": -0.304}, {"id": "r4", "k": 582.3, "e": -0.19}, {"id": "r4", "k": 593.2, "e": -0.125}, {"id": "r4", "k": 606.5, "e": -0.044}, {"id": "r4", "k": 622.9, "e": -0.005}, {"id": "r4", "k": 639.6, "e": -0.023}, {"id": "r4", "k": 657, "e": -0.049}],
"circ": [{"k": 448, "e": -0.015}]
},
"layer": [
{"data": {"name": "bz"}, "transform": [{"filter": "datum.s == 'min'"}],
 "mark": {"type": "line", "color": "black", "strokeWidth": 2},
 "encoding": {
  "x": {"field": "kx", "type": "quantitative", "scale": {"domain": [-0.62, 4.83], "range": [68, 427], "nice": false, "zero": false},
   "axis": {"orient": "bottom", "offset": -641, "values": [0, 3.14159], "labelExpr": "datum.value < 1 ? '0' : 'π'", "title": null, "tickSize": 5, "labelFont": "Liberation Serif", "labelFontSize": 25, "labelPadding": 2}},
  "y": {"field": "ky", "type": "quantitative", "scale": {"domain": [-1.8138, 1.8138], "range": [419, 181], "nice": false, "zero": false},
   "axis": {"orient": "left", "offset": -68, "values": [-1.5708, 0, 1.5708], "labelExpr": "datum.value > 1 ? 'π/2' : datum.value < -1 ? '−π/2' : '0'", "title": null, "tickSize": 5, "labelFont": "Liberation Serif", "labelFontSize": 25, "labelPadding": 2}},
  "order": {"field": "o", "type": "quantitative"}}},
{"data": {"name": "bz"}, "transform": [{"filter": "datum.s == 'tri'"}],
 "mark": {"type": "line", "color": "red", "strokeWidth": 2},
 "encoding": {
  "x": {"field": "kx", "type": "quantitative", "scale": {"domain": [-0.62, 4.83], "range": [68, 427], "nice": false, "zero": false},
   "axis": {"orient": "top", "offset": -181, "values": [0, 3.14159], "labels": false, "tickSize": -5, "title": "a)", "titleX": 95, "titleY": -39, "titleAngle": 0, "titleAlign": "center", "titleBaseline": "middle", "titleFont": "Liberation Serif", "titleFontSize": 30}},
  "y": {"field": "ky", "type": "quantitative", "scale": {"domain": [-1.8138, 1.8138], "range": [419, 181], "nice": false, "zero": false},
   "axis": {"orient": "right", "offset": -535, "values": [-1.5708, 0, 1.5708], "labels": false, "tickSize": -5, "title": null}},
  "order": {"field": "o", "type": "quantitative"}}},
{"data": {"name": "bzlab"},
 "mark": {"type": "text", "align": "left", "baseline": "alphabetic", "font": "DejaVu Sans", "fontSize": 21},
 "encoding": {
  "x": {"field": "x", "type": "quantitative", "scale": {"domain": [-0.62, 4.83], "range": [68, 427], "nice": false, "zero": false}, "axis": null},
  "y": {"field": "y", "type": "quantitative", "scale": {"domain": [-1.8138, 1.8138], "range": [419, 181], "nice": false, "zero": false}, "axis": null},
  "text": {"field": "main"},
  "color": {"field": "g", "type": "nominal", "scale": {"domain": ["min", "tri"], "range": ["black", "red"]}, "legend": null}}},
{"data": {"name": "bzlab"},
 "mark": {"type": "text", "align": "left", "baseline": "alphabetic", "font": "Liberation Serif", "fontStyle": "italic", "fontSize": 17},
 "encoding": {
  "x": {"field": "sx", "type": "quantitative", "scale": {"domain": [-0.62, 4.83], "range": [68, 427], "nice": false, "zero": false}, "axis": null},
  "y": {"field": "sy", "type": "quantitative", "scale": {"domain": [-1.8138, 1.8138], "range": [419, 181], "nice": false, "zero": false}, "axis": null},
  "text": {"field": "sub"},
  "color": {"field": "g", "type": "nominal", "scale": {"domain": ["min", "tri"], "range": ["black", "red"]}, "legend": null}}},
{"data": {"name": "gam"},
 "mark": {"type": "text", "align": "center", "baseline": "alphabetic", "font": "Liberation Serif", "fontSize": 25, "color": "black"},
 "encoding": {
  "x": {"field": "x", "type": "quantitative", "scale": {"domain": [-0.62, 4.83], "range": [68, 427], "nice": false, "zero": false}, "axis": null},
  "y": {"field": "y", "type": "quantitative", "scale": {"domain": [-1.8138, 1.8138], "range": [419, 181], "nice": false, "zero": false}, "axis": null},
  "text": {"field": "t"}}},
{"data": {"name": "gbv"},
 "mark": {"type": "rule", "color": "#333", "strokeDash": [1, 2.5], "strokeWidth": 1},
 "encoding": {
  "x": {"field": "k", "type": "quantitative", "scale": {"domain": [0, 409.3], "range": [547, 956], "nice": false, "zero": false}, "axis": null},
  "y": {"datum": -1.5, "type": "quantitative", "scale": {"domain": [-1.5, 0.5], "range": [440, 30], "nice": false, "zero": false}, "axis": null},
  "y2": {"datum": 0.5}}},
{"data": {"name": "gh"},
 "mark": {"type": "rule", "color": "#333", "strokeDash": [1, 2.5], "strokeWidth": 1},
 "encoding": {
  "y": {"field": "e", "type": "quantitative", "scale": {"domain": [-1.5, 0.5], "range": [440, 30], "nice": false, "zero": false}, "axis": null},
  "x": {"datum": 0, "type": "quantitative", "scale": {"domain": [0, 409.3], "range": [547, 956], "nice": false, "zero": false}, "axis": null},
  "x2": {"datum": 409.3}}},
{"data": {"name": "b"},
 "mark": {"type": "line", "color": "blue", "strokeWidth": 1.6, "interpolate": "monotone"},
 "encoding": {
  "x": {"field": "k", "type": "quantitative", "scale": {"domain": [0, 409.3], "range": [547, 956], "nice": false, "zero": false},
   "axis": {"orient": "bottom", "offset": -620, "values": [0, 65.6, 103.3, 179.3, 230.6, 306, 344, 409.3], "labelExpr": "datum.value < 30 ? 'A' : datum.value < 80 ? 'L' : datum.value < 140 ? 'H' : datum.value < 200 ? 'A' : datum.value < 260 ? 'Γ' : datum.value < 320 ? 'K' : datum.value < 370 ? 'M' : 'Γ'", "ticks": false, "tickSize": 0, "title": null, "labelFont": "Liberation Serif", "labelFontSize": 23, "labelFontStyle": {"condition": {"test": "datum.value == 230.6 || datum.value == 409.3", "value": "normal"}, "value": "italic"}, "labelBaseline": "alphabetic", "labelPadding": 20}},
  "y": {"field": "e", "type": "quantitative", "scale": {"domain": [-1.5, 0.5], "range": [440, 30], "nice": false, "zero": false},
   "axis": {"orient": "left", "offset": -547, "values": [-1.5, -1, -0.5, 0, 0.5], "format": ".1f", "ticks": false, "tickSize": 0, "labelPadding": 5, "labelFontSize": 19, "title": "Energy (eV)", "titleFontSize": 19, "titlePadding": 6}},
  "detail": {"field": "id"}}},
{"data": {"name": "circ"},
 "mark": {"type": "point", "opacity": 0},
 "encoding": {
  "x": {"field": "k", "type": "quantitative", "scale": {"domain": [0, 409.3], "range": [547, 956], "nice": false, "zero": false},
   "axis": {"orient": "top", "offset": -30, "labels": false, "ticks": false, "title": "Tripled cell, electron-doped", "titleFontSize": 21, "titlePadding": 5}},
  "y": {"field": "e", "type": "quantitative", "scale": {"domain": [-1.5, 0.5], "range": [440, 30], "nice": false, "zero": false},
   "axis": {"orient": "right", "offset": -6, "labels": false, "ticks": false, "title": "b)", "titleX": -471, "titleY": 72, "titleAngle": 0, "titleAlign": "center", "titleBaseline": "middle", "titleFont": "Liberation Serif", "titleFontSize": 30}}}},
{"data": {"name": "gcv"},
 "mark": {"type": "rule", "color": "#333", "strokeDash": [1, 2.5], "strokeWidth": 1},
 "encoding": {
  "x": {"field": "k", "type": "quantitative", "scale": {"domain": [0, 657], "range": [225, 882], "nice": false, "zero": false}, "axis": null},
  "y": {"datum": -1.5, "type": "quantitative", "scale": {"domain": [-1.5, 0.5], "range": [975, 537], "nice": false, "zero": false}, "axis": null},
  "y2": {"datum": 0.5}}},
{"data": {"name": "gh"},
 "mark": {"type": "rule", "color": "#333", "strokeDash": [1, 2.5], "strokeWidth": 1},
 "encoding": {
  "y": {"field": "e", "type": "quantitative", "scale": {"domain": [-1.5, 0.5], "range": [975, 537], "nice": false, "zero": false}, "axis": null},
  "x": {"datum": 0, "type": "quantitative", "scale": {"domain": [0, 657], "range": [225, 882], "nice": false, "zero": false}, "axis": null},
  "x2": {"datum": 657}}},
{"data": {"name": "cblue"},
 "mark": {"type": "line", "strokeWidth": 1.6, "interpolate": "monotone"},
 "encoding": {
  "x": {"field": "k", "type": "quantitative", "scale": {"domain": [0, 657], "range": [225, 882], "nice": false, "zero": false},
   "axis": {"orient": "bottom", "offset": -85, "values": [0, 74, 110.7, 174.7, 239.3, 303.7, 353.5, 417.7, 481.5, 545.7, 582.3, 657], "labelExpr": "datum.value < 30 ? 'A' : datum.value < 90 ? 'H' : datum.value < 140 ? 'L' : datum.value < 200 ? 'A' : datum.value < 270 ? 'L' : datum.value < 330 ? 'A' : datum.value < 380 ? 'Γ' : datum.value < 450 ? 'M' : datum.value < 510 ? 'Γ' : datum.value < 565 ? 'M' : datum.value < 620 ? 'K' : 'Γ'", "ticks": false, "tickSize": 0, "labelFont": "Liberation Serif", "labelFontSize": 24, "labelFontStyle": {"condition": {"test": "datum.value == 353.5 || datum.value == 481.5 || datum.value == 657", "value": "normal"}, "value": "italic"}, "labelBaseline": "alphabetic", "labelPadding": 34, "title": "Tripled", "titleX": 75, "titleY": 36, "titleAngle": 0, "titleAlign": "left", "titleBaseline": "alphabetic", "titleFont": "Liberation Serif", "titleFontSize": 32}},
  "y": {"field": "e", "type": "quantitative", "scale": {"domain": [-1.5, 0.5], "range": [975, 537], "nice": false, "zero": false},
   "axis": {"orient": "left", "offset": -225, "values": [-1.5, -1, -0.5, 0, 0.5], "format": ".1f", "ticks": false, "tickSize": 0, "labelPadding": 5, "labelFontSize": 20, "title": "Energy (eV)", "titleFontSize": 20, "titlePadding": 9}},
  "color": {"datum": "Tripled cell, unfolded", "type": "nominal", "scale": {"domain": ["Tripled cell, unfolded", "Minimal cell"], "range": ["blue", "red"]},
   "legend": {"orient": "none", "legendX": 567, "legendY": 547, "title": null, "strokeColor": "#555", "fillColor": "white", "cornerRadius": 5, "padding": 7, "labelFont": "DejaVu Sans", "labelFontSize": 21.5, "labelColor": "black", "labelLimit": 400, "symbolType": "stroke", "symbolStrokeWidth": 1.3, "symbolSize": 900, "symbolOffset": 8, "labelOffset": 23, "rowPadding": 7}},
  "detail": {"field": "id"}}},
{"data": {"name": "cred"},
 "mark": {"type": "line", "strokeWidth": 3, "interpolate": "monotone"},
 "encoding": {
  "x": {"field": "k", "type": "quantitative", "scale": {"domain": [0, 657], "range": [225, 882], "nice": false, "zero": false},
   "axis": {"orient": "bottom", "offset": -85, "values": [0, 110.7, 174.7, 303.7, 353.5, 481.5, 545.7, 657], "labelExpr": "datum.value < 30 ? 'A' : datum.value < 140 ? 'L' : datum.value < 200 ? 'H' : datum.value < 330 ? 'A' : datum.value < 380 ? 'Γ' : datum.value < 510 ? 'K' : datum.value < 600 ? 'M' : 'Γ'", "domain": false, "ticks": false, "tickSize": 0, "labelFont": "Liberation Serif", "labelFontSize": 24, "labelFontStyle": {"condition": {"test": "datum.value == 353.5 || datum.value == 657", "value": "normal"}, "value": "italic"}, "labelBaseline": "alphabetic", "labelPadding": 74, "title": "Minimal", "titleX": 75, "titleY": 75, "titleAngle": 0, "titleAlign": "left", "titleBaseline": "alphabetic", "titleFont": "Liberation Serif", "titleFontSize": 32}},
  "y": {"field": "e", "type": "quantitative", "scale": {"domain": [-1.5, 0.5], "range": [975, 537], "nice": false, "zero": false},
   "axis": {"orient": "right", "offset": -80, "labels": false, "ticks": false, "title": "c)", "titleX": -749, "titleY": 549, "titleAngle": 0, "titleAlign": "center", "titleBaseline": "middle", "titleFont": "Liberation Serif", "titleFontSize": 30}},
  "color": {"datum": "Minimal cell", "type": "nominal", "scale": {"domain": ["Tripled cell, unfolded", "Minimal cell"], "range": ["blue", "red"]}, "legend": null},
  "detail": {"field": "id"}}},
{"data": {"name": "circ"},
 "mark": {"type": "point", "shape": "circle", "filled": false, "size": 1800, "color": "black", "strokeWidth": 3, "strokeDash": [8, 4], "opacity": 1},
 "encoding": {
  "x": {"field": "k", "type": "quantitative", "scale": {"domain": [0, 657], "range": [225, 882], "nice": false, "zero": false},
   "axis": {"orient": "top", "offset": -537, "labels": false, "ticks": false, "title": "Tripled cell unfolded, electron-doped", "titleFontSize": 23, "titlePadding": 4}},
  "y": {"field": "e", "type": "quantitative", "scale": {"domain": [-1.5, 0.5], "range": [975, 537], "nice": false, "zero": false}, "axis": null}}}
],
"resolve": {"scale": {"x": "independent", "y": "independent", "color": "independent"}, "axis": {"x": "independent", "y": "independent"}}
}
